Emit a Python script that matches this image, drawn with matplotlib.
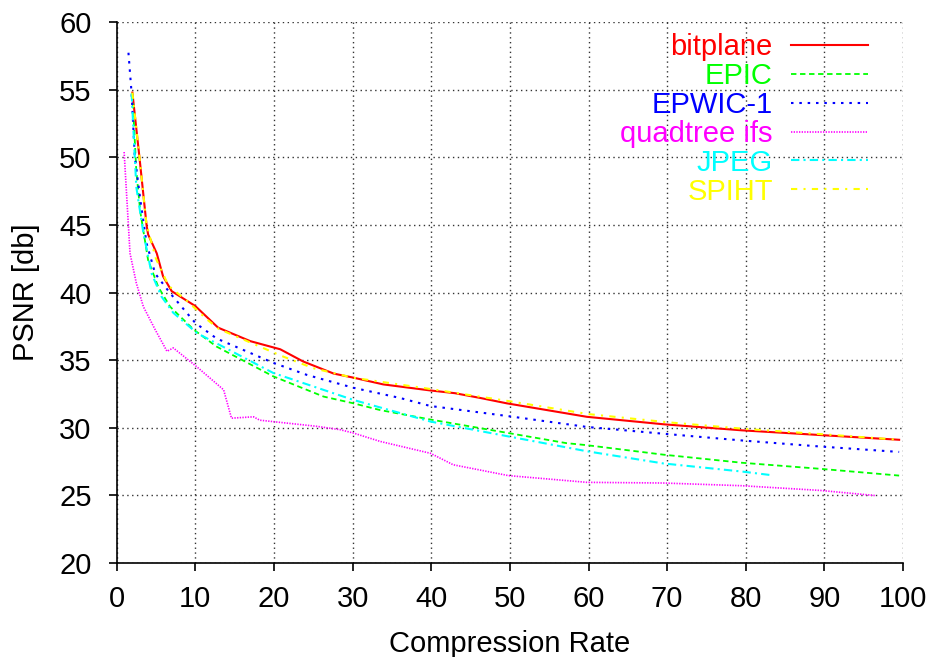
import matplotlib
matplotlib.use("Agg")
import matplotlib.pyplot as plt

plt.rcParams['font.family'] = ['Liberation Sans', 'DejaVu Sans']
plt.rcParams['font.size'] = 21

# rate/distortion curves, PSNR [db] vs compression rate
bitplane_x = [2.0, 2.9, 3.8, 4.0, 5.1, 5.9, 7.0, 10.0, 12.9, 17.0, 20.8, 23.7, 27.6,
              30.1, 33.9, 39.9, 43.0, 46.2, 49.6, 59.8, 69.5, 79.5, 89.5, 99.5]
bitplane_y = [54.8, 50.0, 45.0, 44.3, 42.9, 41.2, 40.1, 39.0, 37.4, 36.4, 35.8, 34.9, 34.0,
              33.7, 33.2, 32.75, 32.55, 32.2, 31.8, 30.8, 30.25, 29.8, 29.45, 29.1]

epic_x = [2.0, 2.5, 3.0, 4.0, 5.3, 6.8, 9.8, 12.7, 19.9, 26.3, 30.1, 33.5, 39.9,
          49.8, 57.2, 59.8, 69.5, 79.5, 89.5, 99.5]
epic_y = [54.7, 49.0, 46.0, 42.4, 40.4, 38.95, 37.25, 36.0, 33.8, 32.3, 31.8, 31.3, 30.6,
          29.6, 28.85, 28.7, 28.0, 27.4, 26.95, 26.45]

epwic_x = [1.5, 1.9, 2.3, 3.0, 3.8, 4.9, 6.8, 10.0, 12.7, 19.9, 24.2, 30.1, 36.0,
           39.9, 49.8, 59.8, 69.5, 79.5, 89.5, 99.5]
epwic_y = [57.75, 54.75, 50.1, 46.9, 43.65, 41.4, 39.95, 37.75, 36.6, 34.8, 33.9, 32.95, 32.2,
           31.6, 30.85, 30.05, 29.55, 29.05, 28.6, 28.2]

quadtree_x = [0.95, 1.3, 1.7, 2.5, 3.4, 4.9, 6.4, 7.2, 10.2, 13.6, 14.6, 17.4, 18.2,
              25.4, 28.4, 30.1, 33.5, 39.9, 42.8, 49.8, 59.8, 69.5, 79.5, 89.5, 96.5]
quadtree_y = [50.4, 46.9, 42.9, 40.7, 38.95, 37.25, 35.65, 35.9, 34.5, 32.8, 30.7, 30.8, 30.55,
              30.1, 29.85, 29.6, 28.98, 28.1, 27.25, 26.45, 25.95, 25.9, 25.7, 25.35, 24.97]

jpeg_x = [1.9, 2.5, 3.4, 4.45, 5.7, 7.2, 10.2, 19.9, 30.1, 39.9, 49.8, 59.8, 69.5, 79.5, 83.0]
jpeg_y = [54.75, 47.8, 44.4, 41.4, 39.7, 38.5, 37.0, 34.05, 32.05, 30.45, 29.35, 28.25,
          27.35, 26.75, 26.5]

spiht_x = [2.0, 2.9, 3.8, 5.0, 6.6, 9.1, 11.5, 13.0, 17.0, 21.0, 25.0, 30.0, 40.0,
           50.0, 60.0, 70.0, 80.0, 90.0, 99.5]
spiht_y = [54.8, 50.0, 45.0, 42.5, 40.5, 39.3, 38.0, 37.3, 36.3, 35.3, 34.4, 33.7, 32.85,
           31.95, 31.0, 30.4, 29.9, 29.5, 29.1]

fig = plt.figure(figsize=(9.31, 6.57), dpi=100)
ax = fig.add_axes([0.1253, 0.1435, 0.8447, 0.8225])

ax.plot(bitplane_x, bitplane_y, color='#ff0000', lw=1.5, label='bitplane')
ax.plot(epic_x, epic_y, color='#00ff00', lw=1.3, dashes=(3, 2), label='EPIC')
ax.plot(epwic_x, epwic_y, color='#0000ff', lw=1.5, dashes=(1.2, 2.8), label='EPWIC-1')
ax.plot(quadtree_x, quadtree_y, color='#ff00ff', lw=1.2, dashes=(0.8, 0.8), label='quadtree ifs')
ax.plot(jpeg_x, jpeg_y, color='#00ffff', lw=1.5, dashes=(4, 2, 1, 2), label='JPEG')
ax.plot(spiht_x, spiht_y, color='#ffff00', lw=1.5, dashes=(3, 3, 1, 3), label='SPIHT')

ax.set_xlim(0, 100)
ax.set_ylim(20, 60)
ax.set_xticks(range(0, 101, 10))
ax.set_yticks(range(20, 61, 5))
ax.grid(True, color='0.2', linestyle=(0, (1, 2.5)), linewidth=1.0)

for side in ['top', 'right']:
    ax.spines[side].set_visible(False)
for side in ['left', 'bottom']:
    ax.spines[side].set_linewidth(1.2)
ax.tick_params(direction='out', length=6, width=1.2)
ax.tick_params(axis='y', pad=12)
ax.tick_params(axis='x', pad=10)

ax.set_xlabel('Compression Rate', labelpad=12)
ax.set_ylabel('PSNR [db]', labelpad=14)

leg = ax.legend(loc='upper right', bbox_to_anchor=(0.9555, 0.98), frameon=False,
                markerfirst=False, labelcolor='linecolor', handlelength=2.65,
                handletextpad=0.62, labelspacing=0.03, borderpad=0, borderaxespad=0)

fig.savefig('out.png', dpi=100)
